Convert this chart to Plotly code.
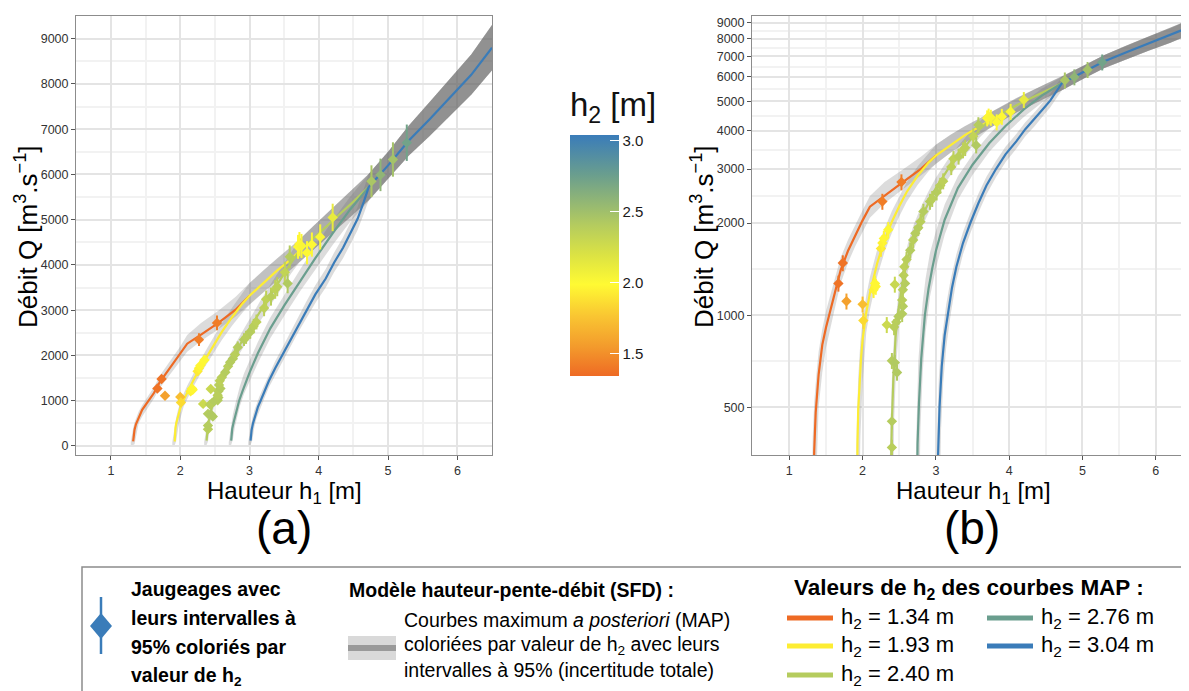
import plotly.graph_objects as go
from plotly.colors import sample_colorscale

W, H = 1189, 691
OX, OY = 8, 8      # the page body margin shifts the figure by 8 px; layout positions compensate
FONT = "Liberation Sans, Arial, sans-serif"

# ---------------- colour scale for h2 ----------------
H2_MIN, H2_MAX = 1.34, 3.04
h2_colorscale = [[0.0, 'rgb(238,106,36)'], [0.12, 'rgb(243,154,44)'], [0.25, 'rgb(249,198,50)'],
                 [0.38, 'rgb(255,250,51)'], [0.5, 'rgb(220,227,67)'], [0.624, 'rgb(181,204,94)'],
                 [0.835, 'rgb(106,158,142)'], [1.0, 'rgb(58,124,185)']]

# ---------------- MAP curves (h1 [m], Q [m3/s]) ----------------
curve_h2 = [1.34, 1.93, 2.40, 2.76, 3.04]
curve_join_h = [3.0, 3.0, 3.72, 4.72, 4.72]        # where each curve joins the common upper branch
curve_line_end_h = [3.0, 3.72, 4.72, 4.72, 6.5]    # where its coloured line stops being visible

orange_h = [1.32, 1.325, 1.33, 1.34, 1.36, 1.40, 1.45, 1.50, 1.55, 1.62, 1.70, 1.80, 1.90, 2.00, 2.10, 2.30, 2.55, 2.80]
orange_q = [100, 200, 270, 360, 480, 640, 800, 910, 1010, 1170, 1400, 1620, 1830, 2040, 2260, 2460, 2720, 3010]
orange_rib_h = [1.285, 1.30, 1.32, 1.34, 1.37, 1.40, 1.45, 1.50, 1.55, 1.62, 1.70, 1.80, 1.90, 2.00, 2.10, 2.30, 2.55, 2.80]
orange_lo = [20, 20, 20, 40, 300, 500, 650, 780, 890, 1050, 1270, 1480, 1680, 1880, 2080, 2320, 2580, 2860]
orange_hi = [80, 230, 400, 520, 640, 760, 900, 1030, 1140, 1300, 1540, 1760, 1980, 2200, 2450, 2720, 2990, 3300]

yellow_h = [1.92, 1.922, 1.925, 1.93, 1.94, 1.96, 1.98, 2.00, 2.05, 2.10, 2.20, 2.30, 2.40, 2.50, 2.60, 2.75, 2.90]
yellow_q = [100, 200, 300, 380, 490, 620, 730, 830, 1020, 1180, 1480, 1760, 2020, 2270, 2520, 2850, 3150]
yellow_rib_h = [1.885, 1.90, 1.92, 1.94, 1.97, 2.00, 2.05, 2.10, 2.20, 2.30, 2.40, 2.50, 2.60, 2.75, 2.90]
yellow_lo = [20, 20, 20, 100, 400, 600, 880, 1040, 1340, 1610, 1860, 2100, 2340, 2660, 2950]
yellow_hi = [80, 250, 420, 620, 820, 960, 1160, 1330, 1640, 1920, 2190, 2450, 2710, 3060, 3380]

green_h = [2.38, 2.385, 2.39, 2.40, 2.42, 2.45, 2.48, 2.52, 2.56, 2.62, 2.70, 2.80, 2.90, 3.00, 3.15, 3.30, 3.45, 3.60]
green_q = [120, 250, 340, 450, 620, 850, 1000, 1170, 1330, 1550, 1800, 2080, 2340, 2600, 2960, 3330, 3680, 4050]
green_rib_h = [2.345, 2.36, 2.38, 2.40, 2.43, 2.46, 2.50, 2.56, 2.62, 2.70, 2.80, 2.90, 3.00, 3.15, 3.30, 3.45, 3.60]
green_lo = [20, 20, 20, 100, 450, 700, 930, 1200, 1400, 1640, 1910, 2160, 2410, 2750, 3110, 3450, 3810]
green_hi = [80, 250, 420, 620, 870, 1020, 1230, 1480, 1720, 1980, 2270, 2540, 2810, 3190, 3560, 3920, 4300]

teal_h = [2.735, 2.74, 2.745, 2.75, 2.77, 2.80, 2.85, 2.90, 2.95, 3.00, 3.12, 3.30, 3.50, 3.73, 3.95, 4.20, 4.45]
teal_q = [120, 250, 320, 380, 520, 720, 1000, 1220, 1420, 1620, 2050, 2600, 3100, 3650, 4150, 4700, 5220]
teal_rib_h = [2.70, 2.715, 2.735, 2.76, 2.79, 2.82, 2.86, 2.92, 3.00, 3.12, 3.30, 3.50, 3.73, 3.95, 4.20, 4.45]
teal_lo = [20, 20, 20, 150, 430, 650, 880, 1150, 1420, 1830, 2380, 2870, 3420, 3900, 4440, 4950]
teal_hi = [80, 250, 420, 700, 900, 1100, 1320, 1600, 1880, 2300, 2840, 3340, 3900, 4420, 4980, 5500]

blue_h = [3.015, 3.02, 3.025, 3.03, 3.05, 3.08, 3.12, 3.16, 3.22, 3.28, 3.37, 3.47, 3.58, 3.69, 3.82, 3.95, 4.10, 4.22, 4.35, 4.45, 4.56, 4.65]
blue_q = [120, 230, 290, 350, 500, 680, 860, 1000, 1230, 1440, 1720, 2000, 2320, 2650, 3000, 3350, 3700, 4050, 4380, 4680, 5020, 5400]
blue_rib_h = [2.98, 2.995, 3.015, 3.04, 3.07, 3.10, 3.14, 3.20, 3.28, 3.37, 3.47, 3.58, 3.69, 3.82, 3.95, 4.10, 4.22, 4.35, 4.45, 4.56, 4.65]
blue_lo = [20, 20, 20, 120, 420, 600, 780, 1000, 1300, 1580, 1850, 2160, 2480, 2820, 3160, 3500, 3840, 4150, 4440, 4770, 5130]
blue_hi = [80, 230, 400, 620, 790, 920, 1080, 1300, 1580, 1870, 2160, 2490, 2830, 3190, 3550, 3910, 4270, 4610, 4920, 5280, 5680]

# common upper branch shared by the curves after they join
env_h = [3.0, 3.2, 3.4, 3.6, 3.72, 3.9, 4.1, 4.3, 4.5, 4.72, 5.0, 5.3, 5.6, 5.9, 6.2, 6.5]
env_q = [3320, 3600, 3880, 4130, 4300, 4560, 4850, 5120, 5400, 5720, 6200, 6750, 7220, 7700, 8200, 8800]
env_lo = [3120, 3390, 3660, 3900, 4060, 4310, 4590, 4850, 5120, 5430, 5900, 6420, 6850, 7300, 7760, 8300]
env_hi = [3600, 3880, 4150, 4400, 4560, 4830, 5120, 5400, 5690, 6010, 6500, 7080, 7600, 8120, 8650, 9300]

# ---------------- gaugings (h1 [m], Q [m3/s], h2 [m]) ----------------
gauge_h1 = [1.67, 1.73, 1.78, 2.27, 2.53,
            2.00, 2.01, 2.15, 2.17, 2.18, 2.25, 2.27, 2.29, 2.35,
            2.33, 2.40, 2.40, 2.40, 2.44, 2.47, 2.43, 2.46, 2.49, 2.44, 2.54, 2.55, 2.54, 2.55, 2.58,
            2.56, 2.57, 2.60, 2.65, 2.69, 2.72, 2.76, 2.79, 2.83, 2.92, 2.95, 3.01, 3.06, 3.10, 3.21,
            3.24, 3.31, 3.37, 3.40, 3.51, 3.55, 3.58,
            3.70, 3.72, 3.75, 3.83, 3.90, 4.02, 4.20,
            4.76, 4.89, 5.07, 5.27]
gauge_q = [1270, 1480, 1110, 2350, 2720,
           1085, 960, 1210, 1270, 1240, 1650, 1720, 1780, 1900,
           930, 370, 450, 710, 700, 650, 915, 950, 990, 1260, 1010, 1070, 1120, 1210, 1270,
           1350, 1440, 1520, 1630, 1760, 1850, 1930, 2020, 2180, 2350, 2400, 2520, 2650, 2740, 3050,
           3240, 3300, 3460, 3520, 3840, 3590, 4180,
           4400, 4460, 4420, 4270, 4450, 4620, 5050,
           5850, 5990, 6330, 6700]
gauge_h2 = [1.38, 1.38, 1.58, 1.42, 1.42,
            1.72, 1.85, 1.95, 2.00, 1.97, 1.92, 1.95, 1.97, 2.00,
            2.28, 2.38, 2.40, 2.40, 2.42, 2.42, 2.38, 2.38, 2.40, 2.30, 2.40, 2.40, 2.38, 2.38, 2.40,
            2.38, 2.36, 2.38, 2.40, 2.38, 2.40, 2.40, 2.38, 2.40, 2.40, 2.38, 2.40, 2.38, 2.36, 2.36,
            2.35, 2.38, 2.35, 2.36, 2.33, 2.42, 2.40,
            2.00, 1.97, 2.02, 2.00, 2.00, 2.02, 2.12,
            2.45, 2.58, 2.48, 2.72]

# ---------------- tick labels ----------------
x_ticks = [1, 2, 3, 4, 5, 6]
x_minor = [1.5, 2.5, 3.5, 4.5, 5.5, 6.5]
lin_y_ticks = [0, 1000, 2000, 3000, 4000, 5000, 6000, 7000, 8000, 9000]
lin_y_minor = [500, 1500, 2500, 3500, 4500, 5500, 6500, 7500, 8500, 9500]
log_y_ticks = [500, 1000, 2000, 3000, 4000, 5000, 6000, 7000, 8000, 9000]
log_y_minor = [707, 1414, 2449, 3464, 4472, 5477, 6481, 7483, 8485]


def h2_color(v):
    t = min(1.0, max(0.0, (v - H2_MIN) / (H2_MAX - H2_MIN)))
    return sample_colorscale(h2_colorscale, [t])[0]


def X(px):
    return (px - OX) / W


def Y(py):
    return 1 - (py - OY) / H


curves = [
    dict(h=orange_h, q=orange_q, rh=orange_rib_h, lo=orange_lo, hi=orange_hi),
    dict(h=yellow_h, q=yellow_q, rh=yellow_rib_h, lo=yellow_lo, hi=yellow_hi),
    dict(h=green_h, q=green_q, rh=green_rib_h, lo=green_lo, hi=green_hi),
    dict(h=teal_h, q=teal_q, rh=teal_rib_h, lo=teal_lo, hi=teal_hi),
    dict(h=blue_h, q=blue_q, rh=blue_rib_h, lo=blue_lo, hi=blue_hi),
]

fig = go.Figure()

for xa, ya in [("x", "y"), ("x2", "y2")]:
    # 95% ribbons
    for c, hj in zip(curves, curve_join_h):
        idx = [i for i, v in enumerate(env_h) if v >= hj]
        rh = c["rh"] + [env_h[i] for i in idx]
        lo = c["lo"] + [env_lo[i] for i in idx]
        hi = c["hi"] + [env_hi[i] for i in idx]
        fig.add_trace(go.Scatter(x=rh + rh[::-1], y=hi + lo[::-1], mode="lines", fill="toself",
                                 fillcolor="rgba(110,110,110,0.24)", line=dict(width=0),
                                 xaxis=xa, yaxis=ya, hoverinfo="skip", showlegend=False))
    # MAP lines
    for c, v, hj, he in zip(curves, curve_h2, curve_join_h, curve_line_end_h):
        idx = [i for i, e in enumerate(env_h) if hj <= e <= he]
        hh = c["h"] + [env_h[i] for i in idx]
        qq = c["q"] + [env_q[i] for i in idx]
        fig.add_trace(go.Scatter(x=hh, y=qq, mode="lines", line=dict(color=h2_color(v), width=2.2),
                                 xaxis=xa, yaxis=ya, hoverinfo="skip", showlegend=False))
    # gaugings with error bars
    for h1, q, v in zip(gauge_h1, gauge_q, gauge_h2):
        col = h2_color(v)
        fig.add_trace(go.Scatter(
            x=[h1], y=[q], mode="markers",
            marker=dict(symbol="diamond", size=8, color=col, line=dict(width=0)),
            error_x=dict(type="constant", value=0.035, color=col, thickness=2, width=0),
            error_y=dict(type="percent", value=6, color=col, thickness=2, width=0),
            xaxis=xa, yaxis=ya, showlegend=False))

# colour bar
fig.add_trace(go.Scatter(
    x=[None], y=[None], mode="markers", showlegend=False, hoverinfo="skip",
    marker=dict(color=[H2_MIN], colorscale=h2_colorscale, cmin=H2_MIN, cmax=H2_MAX, showscale=True,
                colorbar=dict(x=X(570), xanchor="left", y=Y(88), yanchor="top",
                              len=(376 - 88) / H, lenmode="fraction", thickness=49, thicknessmode="pixels",
                              outlinewidth=0, xpad=0, ypad=0,
                              tickvals=[1.5, 2.0, 2.5, 3.0], ticktext=["1.5", "2.0", "2.5", "3.0"],
                              ticks="inside", ticklen=9, tickcolor="white", tickwidth=1,
                              tickfont=dict(size=15, color="#1a1a1a", family=FONT),
                              title=dict(text="h<sub>2</sub> [m]", side="top",
                                         font=dict(size=33, color="#111", family=FONT))))))

axis_common = dict(showline=True, mirror=True, linecolor="#8c8c8c", linewidth=1,
                   showgrid=True, gridcolor="#e4e4e4", gridwidth=2, zeroline=False,
                   ticks="outside", ticklen=4, tickcolor="#555", tickwidth=1,
                   tickfont=dict(size=12.5, color="#333", family=FONT))
minor_common = dict(showgrid=True, gridcolor="#f2f2f2", gridwidth=1.5, ticks="", tickmode="array")

y_dom = [Y(455), Y(16)]
fig.update_layout(
    width=W, height=H, margin=dict(l=0, r=0, t=0, b=0), autosize=False,
    paper_bgcolor="white", plot_bgcolor="white", font=dict(family=FONT, color="black"),
    xaxis=dict(domain=[X(76), X(492)], range=[0.495, 6.5], anchor="y",
               tickmode="array", tickvals=x_ticks, minor=dict(tickvals=x_minor, **minor_common), **axis_common),
    yaxis=dict(domain=y_dom, range=[-199, 9500], anchor="x",
               tickmode="array", tickvals=lin_y_ticks, ticktext=[str(v) for v in lin_y_ticks],
               minor=dict(tickvals=lin_y_minor, **minor_common), **axis_common),
    xaxis2=dict(domain=[X(752), X(1189)], range=[0.491, 6.454], anchor="y2",
                tickmode="array", tickvals=x_ticks, minor=dict(tickvals=x_minor, **minor_common), **axis_common),
    yaxis2=dict(domain=y_dom, type="log", range=[2.5434, 3.977], anchor="x2",
                tickmode="array", tickvals=log_y_ticks, ticktext=[str(v) for v in log_y_ticks],
                minor=dict(tickvals=log_y_minor, **minor_common), **axis_common),
)


def txt(x, y, s, size, bold=False, anchor="left", angle=0):
    fig.add_annotation(x=X(x), y=Y(y), xref="paper", yref="paper",
                       text=("<b>" + s + "</b>") if bold else s, showarrow=False,
                       xanchor=anchor, yanchor="middle", textangle=angle, borderpad=0,
                       font=dict(size=size, color="black", family=FONT))


# axis titles and panel labels
for cx in (284, 973):
    txt(cx, 492, "Hauteur h<sub>1</sub> [m]", 24, anchor="center")
txt(284, 528, "(a)", 46, anchor="center")
txt(972, 528, "(b)", 46, anchor="center")
txt(27, 237, "Débit Q [m<sup>3</sup>.s<sup>−1</sup>]", 26, anchor="center", angle=-90)
txt(703, 237, "Débit Q [m<sup>3</sup>.s<sup>−1</sup>]", 26, anchor="center", angle=-90)

# ---------------- bottom legend ----------------
def P(x, y):
    return X(x), Y(y)

bx0, by0 = P(82, 567)
fig.add_shape(type="rect", xref="paper", yref="paper", x0=bx0, y0=by0, x1=1.05, y1=-0.05,
              line=dict(color="#8c8c8c", width=1.5), fillcolor="rgba(0,0,0,0)")
blue_c = h2_color(H2_MAX)
lx0, ly0 = P(101, 597)
lx1, ly1 = P(101, 654)
fig.add_shape(type="line", xref="paper", yref="paper", x0=lx0, y0=ly0, x1=lx1, y1=ly1,
              line=dict(color=blue_c, width=2.5))
pts = [P(90, 626), P(101, 613), P(112, 626), P(101, 639)]
path = "M " + " L ".join(f"{a:.5f},{b:.5f}" for a, b in pts) + " Z"
fig.add_shape(type="path", xref="paper", yref="paper", path=path, fillcolor=blue_c, line=dict(width=0))

gx0, gy0 = P(348, 636)
gx1, gy1 = P(396, 660)
fig.add_shape(type="rect", xref="paper", yref="paper", x0=gx0, y0=gy0, x1=gx1, y1=gy1,
              fillcolor="#d9d9d9", line=dict(width=0))
gx0, gy0 = P(348, 645)
gx1, gy1 = P(396, 651)
fig.add_shape(type="rect", xref="paper", yref="paper", x0=gx0, y0=gy0, x1=gx1, y1=gy1,
              fillcolor="#9a9a9a", line=dict(width=0))

for i, line in enumerate(["Jaugeages avec", "leurs intervalles à", "95% coloriés par", "valeur de h<sub>2</sub>"]):
    txt(130, 589 + 29 * i, line, 19.5, bold=True)
txt(348, 590, "Modèle hauteur-pente-débit (SFD) :", 19.5, bold=True)
for i, line in enumerate(["Courbes maximum <i>a posteriori</i> (MAP)",
                          "coloriées par valeur de h<sub>2</sub> avec leurs",
                          "intervalles à 95% (incertitude totale)"]):
    txt(403, 620 + 25 * i, line, 19.5)
txt(793, 589, "Valeurs de h<sub>2</sub> des courbes MAP :", 22.5, bold=True)

swatch_pos = [(787, 618), (787, 646), (787, 675), (987, 618), (987, 646)]
for (sx, sy), v in zip(swatch_pos, curve_h2):
    x0, y0 = P(sx, sy)
    x1, _ = P(sx + 46, sy)
    fig.add_shape(type="line", xref="paper", yref="paper", x0=x0, y0=y0, x1=x1, y1=y0,
                  line=dict(color=h2_color(v), width=5))
    txt(sx + 53, sy, f"h<sub>2</sub> = {v:.2f} m", 22)

fig.write_html("out.html")
